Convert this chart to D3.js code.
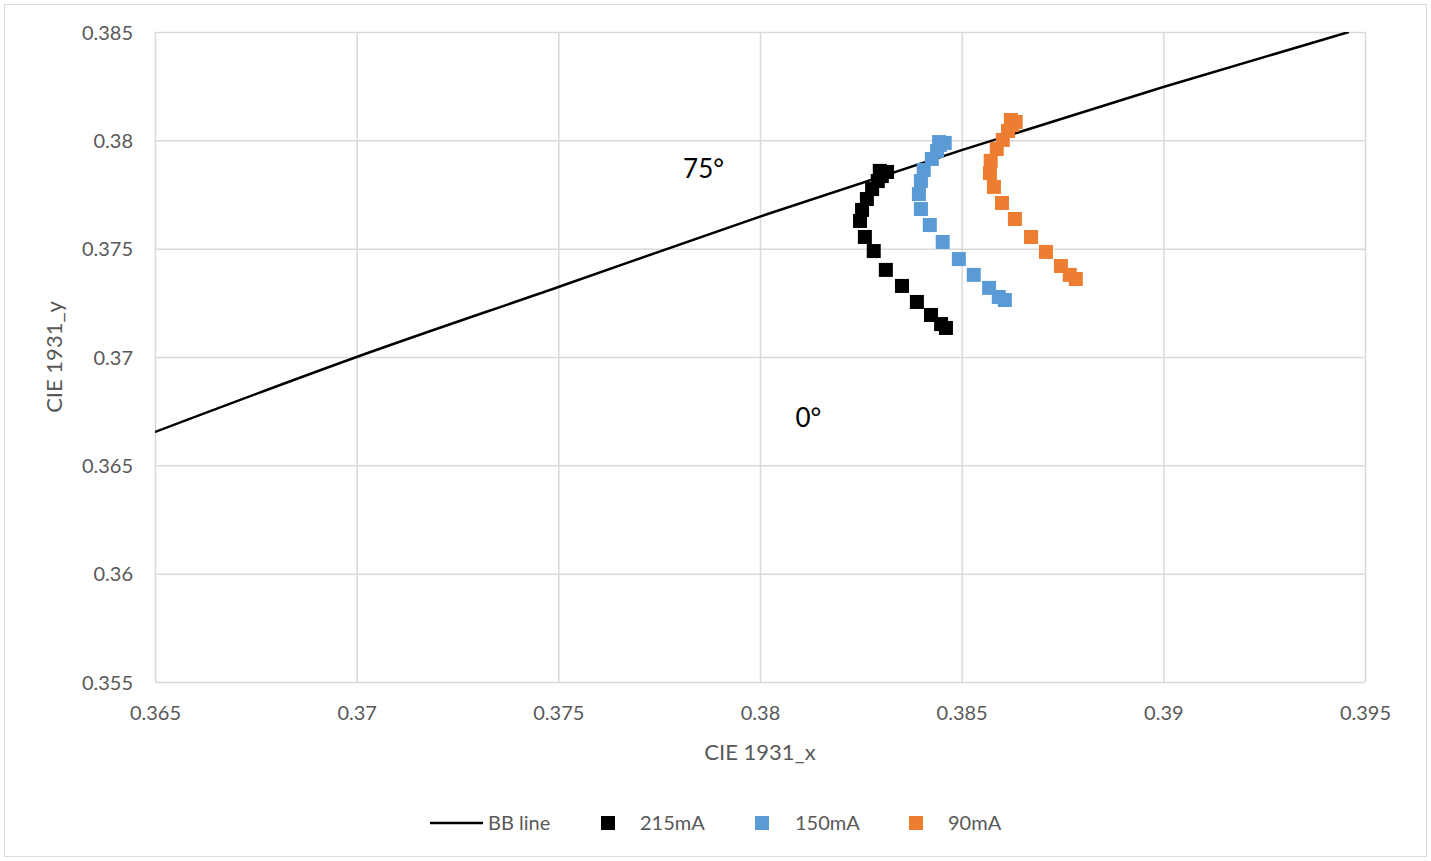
<!DOCTYPE html>
<html>
<head>
<meta charset="utf-8">
<script src="https://cdn.jsdelivr.net/npm/d3@7"></script>
<style>
  html, body { margin: 0; padding: 0; background: #fff; }
  svg text { font-family: Lato, "Open Sans", sans-serif; }
</style>
</head>
<body>
<svg id="chart" width="1431" height="861"></svg>
<script>
// Black-body (Planckian) locus through the visible window
const bbX = [0.365, 0.370, 0.375, 0.380, 0.385, 0.390, 0.3946];
const bbY = [0.36654, 0.37000, 0.37323, 0.37648, 0.37955, 0.38246, 0.38500];

// Colour point versus viewing angle (0° → 75°), per drive current
const x215 = [0.38461, 0.38449, 0.38424, 0.38389, 0.38352, 0.38312, 0.38282, 0.38260, 0.38248, 0.38253, 0.38265, 0.38278, 0.38292, 0.38302, 0.38297, 0.38315];
const y215 = [0.37134, 0.37152, 0.37194, 0.37254, 0.37328, 0.37402, 0.37489, 0.37554, 0.37628, 0.37679, 0.37729, 0.37775, 0.37812, 0.37835, 0.37859, 0.37854];

const x150 = [0.38607, 0.38592, 0.38568, 0.38530, 0.38493, 0.38453, 0.38421, 0.38399, 0.38394, 0.38399, 0.38406, 0.38426, 0.38439, 0.38446, 0.38444, 0.38458];
const y150 = [0.37263, 0.37277, 0.37319, 0.37379, 0.37452, 0.37531, 0.37609, 0.37683, 0.37752, 0.37812, 0.37863, 0.37914, 0.37951, 0.37979, 0.37992, 0.37988];

const x90 = [0.38783, 0.38768, 0.38746, 0.38709, 0.38672, 0.38632, 0.38600, 0.38580, 0.38570, 0.38572, 0.38587, 0.38602, 0.38615, 0.38625, 0.38622, 0.38634];
const y90 = [0.37360, 0.37379, 0.37420, 0.37485, 0.37554, 0.37637, 0.37711, 0.37785, 0.37849, 0.37905, 0.37960, 0.38002, 0.38043, 0.38071, 0.38094, 0.38085];

const xTicks = [0.365, 0.37, 0.375, 0.38, 0.385, 0.39, 0.395];
const yTicks = [0.355, 0.36, 0.365, 0.37, 0.375, 0.38, 0.385];

const seriesNames = ["BB line", "215mA", "150mA", "90mA"];
const seriesColors = ["#000000", "#000000", "#5B9BD5", "#ED7D31"];

const angleLabels = [
  { text: "75°", x: 0.3786, y: 0.37867 },
  { text: "0°",  x: 0.3812, y: 0.36717 }
];

// ---- layout ----
const svg = d3.select("#chart");
const W = 1431, H = 861;
const plot = { left: 155, top: 32, right: 1365, bottom: 682 };

const x = d3.scaleLinear().domain([0.365, 0.395]).range([plot.left, plot.right]);
const y = d3.scaleLinear().domain([0.355, 0.385]).range([plot.bottom, plot.top]);

// outer chart frame
svg.append("rect")
  .attr("x", 4.5).attr("y", 4.5).attr("width", W - 9).attr("height", H - 9)
  .attr("fill", "#fff").attr("stroke", "#D9D9D9").attr("stroke-width", 1);

// gridlines
const xAxis = d3.axisBottom(x).tickValues(xTicks).tickSize(-(plot.bottom - plot.top))
  .tickFormat(d => d3.format("")(+d.toFixed(3)));
const yAxis = d3.axisLeft(y).tickValues(yTicks).tickSize(-(plot.right - plot.left))
  .tickFormat(d => d3.format("")(+d.toFixed(3)));

const gx = svg.append("g").attr("transform", `translate(0,${plot.bottom})`).call(xAxis);
const gy = svg.append("g").attr("transform", `translate(${plot.left},0)`).call(yAxis);

[gx, gy].forEach(g => {
  g.select(".domain").remove();
  g.selectAll(".tick line").attr("stroke", "#D9D9D9").attr("stroke-width", 1.5);
  g.selectAll(".tick text").attr("fill", "#595959").style("font-size", "20px");
});
gx.selectAll(".tick text").attr("dy", 0).attr("y", 38);
gy.selectAll(".tick text").attr("x", -22).attr("dy", "0.35em");

// axis titles
svg.append("text").attr("x", (plot.left + plot.right) / 2).attr("y", 760)
  .attr("text-anchor", "middle").attr("fill", "#595959").style("font-size", "22px")
  .text("CIE 1931_x");
svg.append("text").attr("transform", `translate(62,${(plot.top + plot.bottom) / 2}) rotate(-90)`)
  .attr("text-anchor", "middle").attr("fill", "#595959").style("font-size", "22px")
  .text("CIE 1931_y");

// clip to plot area
svg.append("defs").append("clipPath").attr("id", "plotClip")
  .append("rect").attr("x", plot.left).attr("y", plot.top)
  .attr("width", plot.right - plot.left).attr("height", plot.bottom - plot.top);

const layer = svg.append("g").attr("clip-path", "url(#plotClip)");

// black-body line
const bb = bbX.map((v, i) => [v, bbY[i]]);
layer.append("path")
  .datum(bb)
  .attr("fill", "none").attr("stroke", seriesColors[0]).attr("stroke-width", 2.5)
  .attr("d", d3.line().x(d => x(d[0])).y(d => y(d[1])).curve(d3.curveMonotoneX));

// marker series
const series = [
  { xs: x215, ys: y215, color: seriesColors[1] },
  { xs: x150, ys: y150, color: seriesColors[2] },
  { xs: x90,  ys: y90,  color: seriesColors[3] }
];
const M = 14;
series.forEach(s => {
  const pts = s.xs.map((v, i) => [v, s.ys[i]]);
  layer.append("g").selectAll("rect").data(pts).join("rect")
    .attr("x", d => x(d[0]) - M / 2).attr("y", d => y(d[1]) - M / 2)
    .attr("width", M).attr("height", M)
    .attr("fill", s.color);
});

// angle annotations
svg.append("g").selectAll("text").data(angleLabels).join("text")
  .attr("x", d => x(d.x)).attr("y", d => y(d.y))
  .attr("text-anchor", "middle").attr("dy", "0.35em")
  .attr("fill", "#000").style("font-size", "26px")
  .text(d => d.text);

// legend
const legendY = 823;
const leg = svg.append("g");
const legendItems = [
  { name: seriesNames[0], color: seriesColors[0], type: "line", sx: 430, tx: 488 },
  { name: seriesNames[1], color: seriesColors[1], type: "rect", sx: 601, tx: 640 },
  { name: seriesNames[2], color: seriesColors[2], type: "rect", sx: 755, tx: 795 },
  { name: seriesNames[3], color: seriesColors[3], type: "rect", sx: 909, tx: 948 }
];
legendItems.forEach(it => {
  if (it.type === "line") {
    leg.append("line").attr("x1", it.sx).attr("x2", it.sx + 53)
      .attr("y1", legendY).attr("y2", legendY)
      .attr("stroke", it.color).attr("stroke-width", 2.5);
  } else {
    leg.append("rect").attr("x", it.sx).attr("y", legendY - 7)
      .attr("width", 14).attr("height", 14).attr("fill", it.color);
  }
  leg.append("text").attr("x", it.tx).attr("y", legendY).attr("dy", "0.35em")
    .attr("fill", "#595959").style("font-size", "20px").text(it.name);
});
</script>
</body>
</html>
